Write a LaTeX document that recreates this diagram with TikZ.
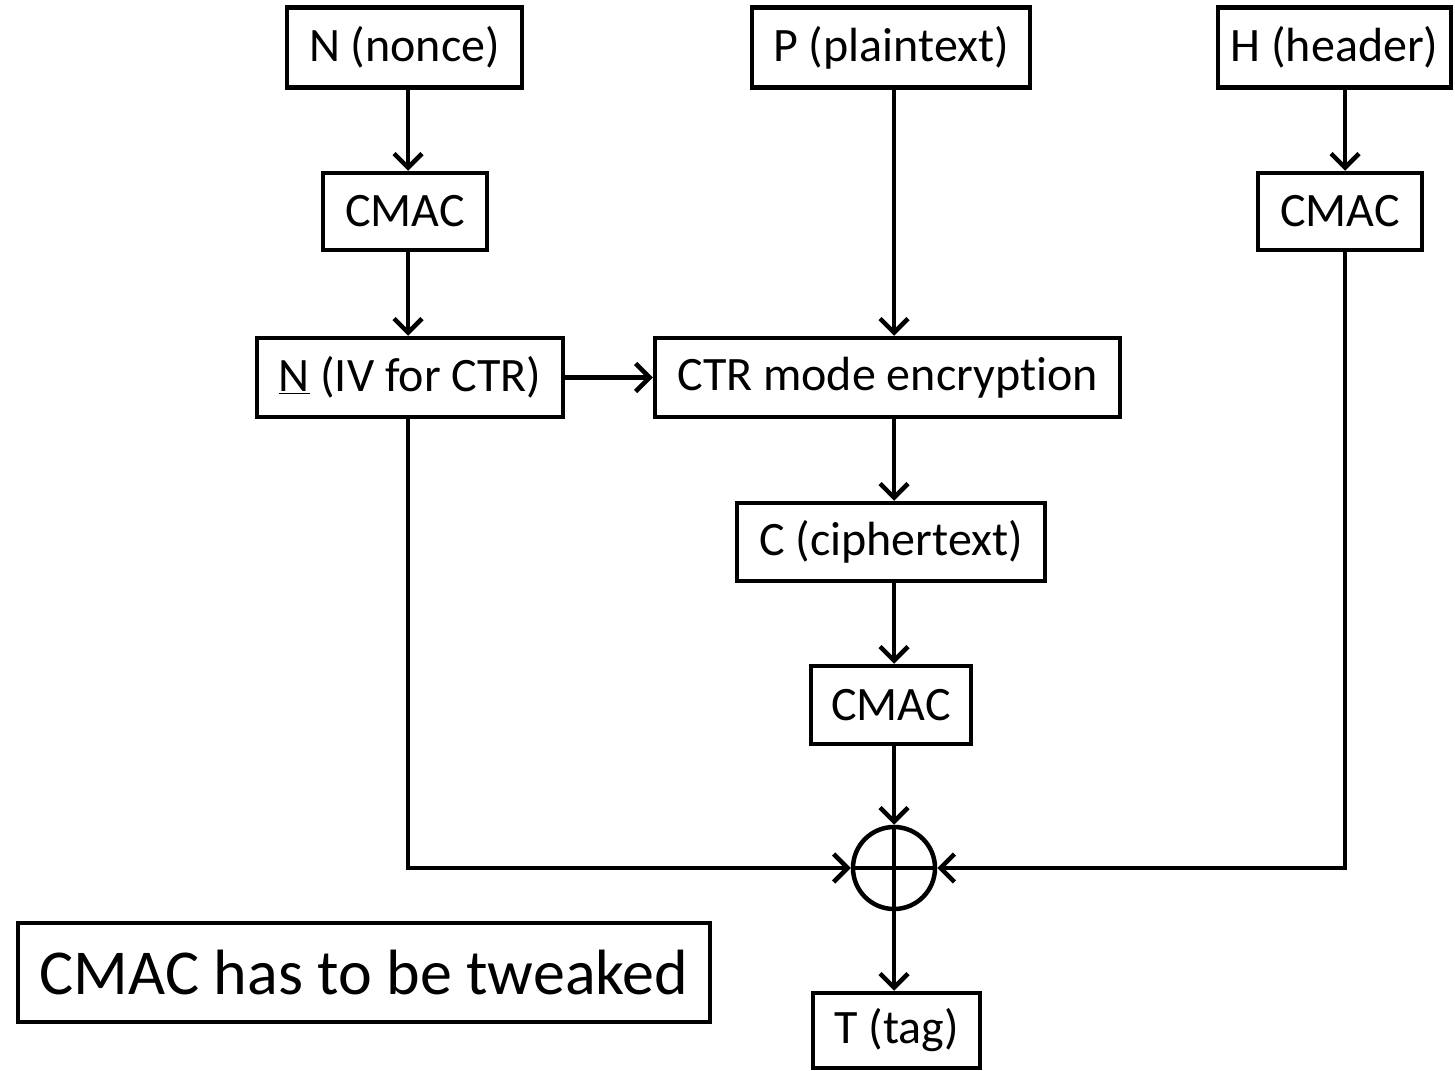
\documentclass[tikz,border=0pt]{standalone}
\usepackage{fontspec}
\setmainfont[RawFeature={-liga}]{Carlito}
\usetikzlibrary{arrows.meta,calc}
\begin{document}
\begin{tikzpicture}[x=1pt,y=-1pt,
  every node/.style={font=\fontsize{48}{56}\selectfont},
  blk/.style={draw,line width=4.5pt,rectangle,inner sep=0pt,align=center},
  wire/.style={line width=4.5pt,line join=miter},
  arr/.style={wire,-{Straight Barb[length=14pt,width=28pt]}}]
\useasboundingbox (0,0) rectangle (1455,1070);

% column positions of the vertical wires
\coordinate (colL) at (408,0);
\coordinate (colM) at (894,0);
\coordinate (colR) at (1345,0);

% inputs
\node[blk,minimum width=235pt,minimum height=80pt] (nonce)  at (404.5,47.5) {N (nonce)};
\node[blk,minimum width=278pt,minimum height=80pt] (plain)  at (891,47.5)   {P (plaintext)};
\node[blk,minimum width=233pt,minimum height=80pt] (header) at (1334.5,47.5) {H (header)};

% CMACs of nonce and header
\node[blk,minimum width=164pt,minimum height=77pt] (cmacL) at (405,211.5)  {CMAC};
\node[blk,minimum width=164pt,minimum height=77pt] (cmacR) at (1340,211.5) {CMAC};

% encryption row
\node[blk,minimum width=306pt,minimum height=79pt] (iv)  at (410,377.5)   {\underline{N} (IV for CTR)};
\node[blk,minimum width=465pt,minimum height=79pt] (ctr) at (887.5,377.5) {CTR mode encryption};

% ciphertext and its CMAC
\node[blk,minimum width=308pt,minimum height=78pt] (ctext) at (891,542) {C (ciphertext)};
\node[blk,minimum width=160pt,minimum height=78pt] (cmacM) at (891,705) {CMAC};

% xor
\node[draw,circle,line width=4.5pt,minimum size=82pt,inner sep=0pt] (xor) at (894,868) {};
\draw[wire] (xor.north) -- (xor.south);
\draw[wire] (xor.west) -- (xor.east);

% tag
\node[blk,minimum width=167pt,minimum height=75pt] (tag) at (896.5,1030.5) {T (tag)};

% note
\node[blk,minimum width=692pt,minimum height=99pt,font=\fontsize{64}{76}\selectfont] (tweak) at (364,972.5) {CMAC has to be tweaked};

% connectors
\draw[arr] (nonce.south -| colL) -- (cmacL.north -| colL);
\draw[arr] (cmacL.south -| colL) -- (iv.north -| colL);
\draw[arr] (plain.south -| colM) -- (ctr.north -| colM);
\draw[arr] (header.south -| colR) -- (cmacR.north -| colR);
\draw[arr] (iv.east) -- (ctr.west);
\draw[arr] (ctr.south -| colM) -- (ctext.north -| colM);
\draw[arr] (ctext.south -| colM) -- (cmacM.north -| colM);
\draw[arr] (cmacM.south -| colM) -- (xor.north);
\draw[arr] (iv.south -| colL) |- (xor.west);
\draw[arr] (cmacR.south -| colR) |- (xor.east);
\draw[arr] (xor.south) -- (tag.north -| colM);
\end{tikzpicture}
\end{document}
